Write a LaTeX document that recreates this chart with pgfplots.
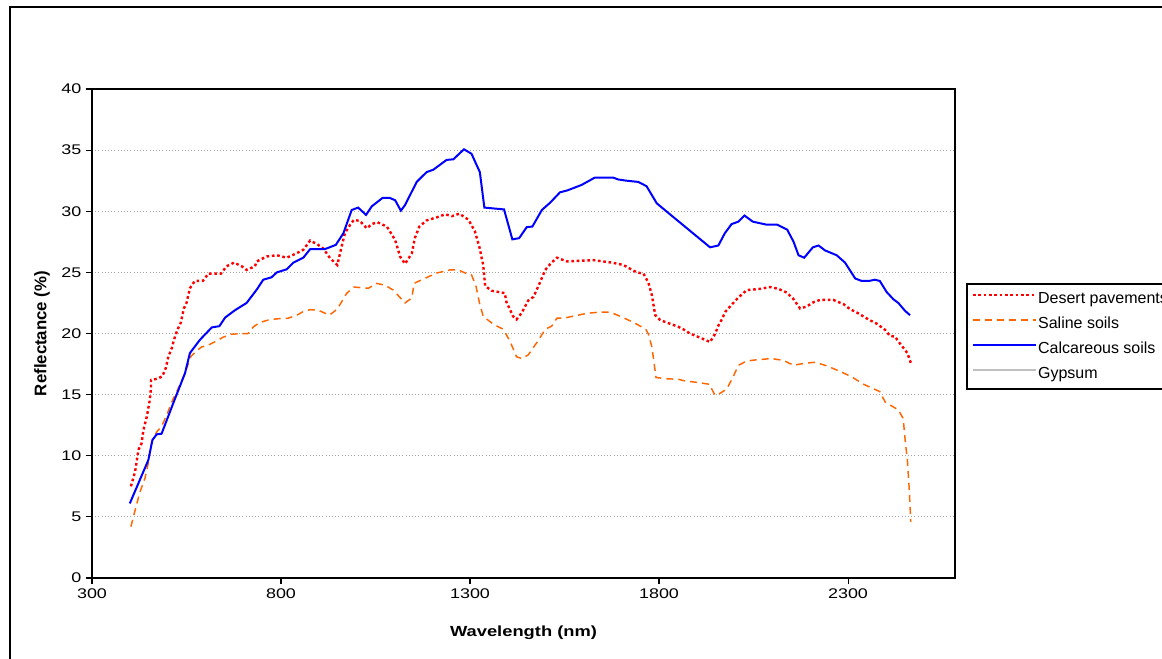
\documentclass[border=0pt]{standalone}
\usepackage{fontspec}
\setmainfont{Liberation Sans}
\newfontfamily\widefont{Liberation Sans}[FakeStretch=1.28]
\newfontfamily\labfont{Liberation Sans}[FakeStretch=1.25]
\usepackage{pgfplots}
\pgfplotsset{compat=1.18}
\definecolor{desertred}{HTML}{FF0000}
\definecolor{salineorange}{HTML}{FF6600}
\definecolor{calcblue}{HTML}{0000FF}
\definecolor{gypsumgray}{HTML}{C0C0C0}
\definecolor{gridgray}{HTML}{A6A6A6}

\begin{document}
\begin{tikzpicture}
% page is 1162 x 658 px, 1 px = 0.75pt
\useasboundingbox (0,0) rectangle (871.5pt,493.5pt);
\draw[line width=1.3pt] (7.5pt,488.25pt) rectangle (890pt,-10pt);
\begin{axis}[
  at={(69pt,60pt)}, anchor=south west,
  scale only axis, width=647.25pt, height=366.75pt,
  xmin=300, xmax=2583, ymin=0, ymax=40,
  xtick={300,800,1300,1800,2300},
  ytick={0,5,...,40},
  xtick pos=left, ytick pos=left,
  tick align=outside, major tick length=4.5pt,
  tick style={black, line width=0.8pt},
  axis line style={black, line width=1.3pt},
  ymajorgrids, grid style={gridgray, dotted, line width=0.8pt},
  /pgf/number format/assume math mode=true,
  /pgf/number format/set thousands separator={},
  ticklabel style={font=\widefont\fontsize{10.5}{12}\selectfont},
  xlabel={Wavelength (nm)}, ylabel={Reflectance (\%)},
  xlabel style={at={(axis description cs:0.5,-0.1125)}, anchor=center,
    font=\labfont\fontsize{11}{13}\selectfont\bfseries},
  ylabel style={at={(axis description cs:-0.058,0.5)}, anchor=center,
    font=\fontsize{12.6}{14}\selectfont\bfseries},
  legend style={at={(axis description cs:1.0128,0.603)}, anchor=north west,
    draw=black, line width=1.3pt, fill=white, inner xsep=3.4pt, inner ysep=5.45pt,
    row sep=7.15pt, font=\fontsize{12}{14}\selectfont,
    nodes={inner sep=0.8pt, text height=8pt, text depth=2pt}},
  legend cell align=left,
  legend image code/.code={\draw[#1] (0pt,3pt) -- (47pt,3pt);},
]
% Desert pavements
\addplot[desertred, line width=1.8pt, dash pattern=on 2pt off 2pt] coordinates {
(403,7.5) (414,8.7) (423,10.5) (431,11.0) (436,12.1) (445,13.2) (452,14.4)
(456,15.5) (456,16.2) (473,16.3) (486,16.5) (495,17.15) (502,18.1) (511,18.8)
(517,19.5) (526,20.3) (535,20.9) (543,22.05) (550,22.5) (559,23.7) (572,24.3)
(593,24.3) (608,24.9) (641,24.9) (656,25.5) (676,25.8) (696,25.5) (709,25.2)
(731,25.5) (736,25.9) (762,26.3) (789,26.4) (815,26.2) (837,26.5) (859,26.85)
(877,27.6) (896,27.3) (912,26.95) (930,26.15) (949,25.6) (958,26.8) (969,28.2)
(983,28.9) (993,29.3) (1009,29.2) (1027,28.6) (1040,28.95) (1055,29.1)
(1080,28.75) (1102,27.65) (1115,26.3) (1128,25.7) (1146,26.55) (1154,27.8)
(1166,28.75) (1185,29.25) (1212,29.5) (1234,29.75) (1252,29.6) (1272,29.8)
(1296,29.3) (1313,28.35) (1325,27.05) (1331,26.15) (1335,25.6) (1340,23.9)
(1357,23.5) (1392,23.3) (1396,22.6) (1414,21.4) (1423,21.15) (1437,21.7)
(1454,22.7) (1468,23.0) (1484,24.1) (1499,25.2) (1514,25.75) (1530,26.2)
(1556,25.9) (1592,25.95) (1627,26.0) (1675,25.8) (1706,25.6) (1741,25.0)
(1759,24.9) (1772,24.15) (1781,23.15) (1790,21.5) (1803,21.1) (1820,20.9)
(1851,20.55) (1864,20.35) (1882,20.0) (1913,19.6) (1935,19.3) (1948,19.95)
(1957,20.65) (1966,21.15) (1976,21.8) (1992,22.35) (2010,22.95) (2032,23.55)
(2067,23.65) (2094,23.8) (2116,23.65) (2138,23.35) (2156,22.8) (2173,22.05)
(2190,22.2) (2208,22.55) (2226,22.75) (2261,22.75) (2288,22.4) (2305,22.0)
(2327,21.65) (2354,21.15) (2376,20.8) (2398,20.3) (2411,19.8) (2424,19.75)
(2437,19.2) (2457,18.4) (2466,17.6)
};
\addlegendentry{Desert pavements}
% Saline soils
\addplot[salineorange, line width=1.1pt, dash pattern=on 5.25pt off 3.75pt] coordinates {
(403,4.2) (414,5.55) (427,7.05) (440,8.15) (449,9.4) (458,11.15) (471,11.95)
(484,12.4) (498,13.35) (511,14.4) (528,15.5) (546,16.75) (561,18.1) (577,18.6)
(590,18.9) (608,19.05) (630,19.4) (647,19.7) (670,19.95) (713,20.0) (727,20.55)
(744,20.9) (766,21.1) (789,21.2) (819,21.25) (842,21.5) (859,21.8) (877,21.95)
(899,21.9) (928,21.5) (949,22.0) (974,23.3) (993,23.8) (1031,23.7) (1053,24.1)
(1075,23.95) (1097,23.55) (1128,22.5) (1146,22.9) (1152,24.1) (1176,24.45)
(1212,24.95) (1247,25.2) (1269,25.2) (1291,24.9) (1304,24.8) (1316,23.85)
(1325,22.5) (1335,21.4) (1362,20.75) (1388,20.35) (1406,19.35) (1423,18.1)
(1437,17.95) (1454,18.25) (1481,19.45) (1499,20.35) (1516,20.6) (1530,21.25)
(1547,21.25) (1578,21.45) (1609,21.65) (1644,21.75) (1670,21.75) (1698,21.4)
(1733,20.9) (1765,20.35) (1772,19.95) (1781,18.9) (1786,17.8) (1792,16.4)
(1820,16.3) (1853,16.25) (1864,16.15) (1900,16.0) (1933,15.85) (1948,14.95)
(1961,15.1) (1979,15.45) (1996,16.45) (2010,17.4) (2032,17.75) (2058,17.85)
(2098,17.95) (2129,17.8) (2156,17.4) (2182,17.55) (2213,17.65) (2244,17.35)
(2279,16.9) (2310,16.45) (2341,15.85) (2384,15.25) (2398,14.4) (2433,13.75)
(2446,13.05) (2451,11.3) (2457,9.65) (2462,7.2) (2466,4.6)
};
\addlegendentry{Saline soils}
% Calcareous soils
\addplot[calcblue, line width=1.5pt] coordinates {
(400,6.1) (449,9.65) (460,11.3) (471,11.75) (484,11.8) (515,14.3) (546,16.75)
(559,18.4) (586,19.5) (617,20.5) (637,20.6) (652,21.3) (678,21.9) (709,22.5)
(736,23.6) (753,24.4) (775,24.6) (789,25.0) (815,25.25) (833,25.8) (859,26.2)
(877,26.9) (916,26.9) (945,27.25) (965,28.2) (987,30.1) (1004,30.3) (1025,29.7)
(1040,30.4) (1069,31.1) (1087,31.1) (1102,30.9) (1117,30.05) (1128,30.5)
(1159,32.4) (1185,33.2) (1203,33.4) (1238,34.2) (1256,34.25) (1284,35.07)
(1304,34.7) (1326,33.2) (1338,30.3) (1390,30.15) (1412,27.7) (1430,27.8)
(1450,28.7) (1465,28.75) (1490,30.1) (1512,30.7) (1538,31.55) (1557,31.7)
(1595,32.15) (1630,32.75) (1679,32.75) (1692,32.6) (1714,32.5) (1745,32.4)
(1767,32.05) (1794,30.65) (1829,29.75) (1935,27.05) (1957,27.2) (1974,28.2)
(1992,28.95) (2010,29.15) (2026,29.65) (2048,29.15) (2085,28.9) (2113,28.9)
(2139,28.5) (2156,27.5) (2169,26.4) (2184,26.2) (2207,27.05) (2222,27.2)
(2239,26.8) (2270,26.4) (2292,25.8) (2319,24.5) (2336,24.3) (2356,24.3)
(2371,24.4) (2384,24.3) (2402,23.4) (2420,22.8) (2433,22.5) (2451,21.85)
(2464,21.5)
};
\addlegendentry{Calcareous soils}
\addlegendimage{gypsumgray, line width=2.2pt}
\addlegendentry{Gypsum}
\end{axis}
\end{tikzpicture}
\end{document}
